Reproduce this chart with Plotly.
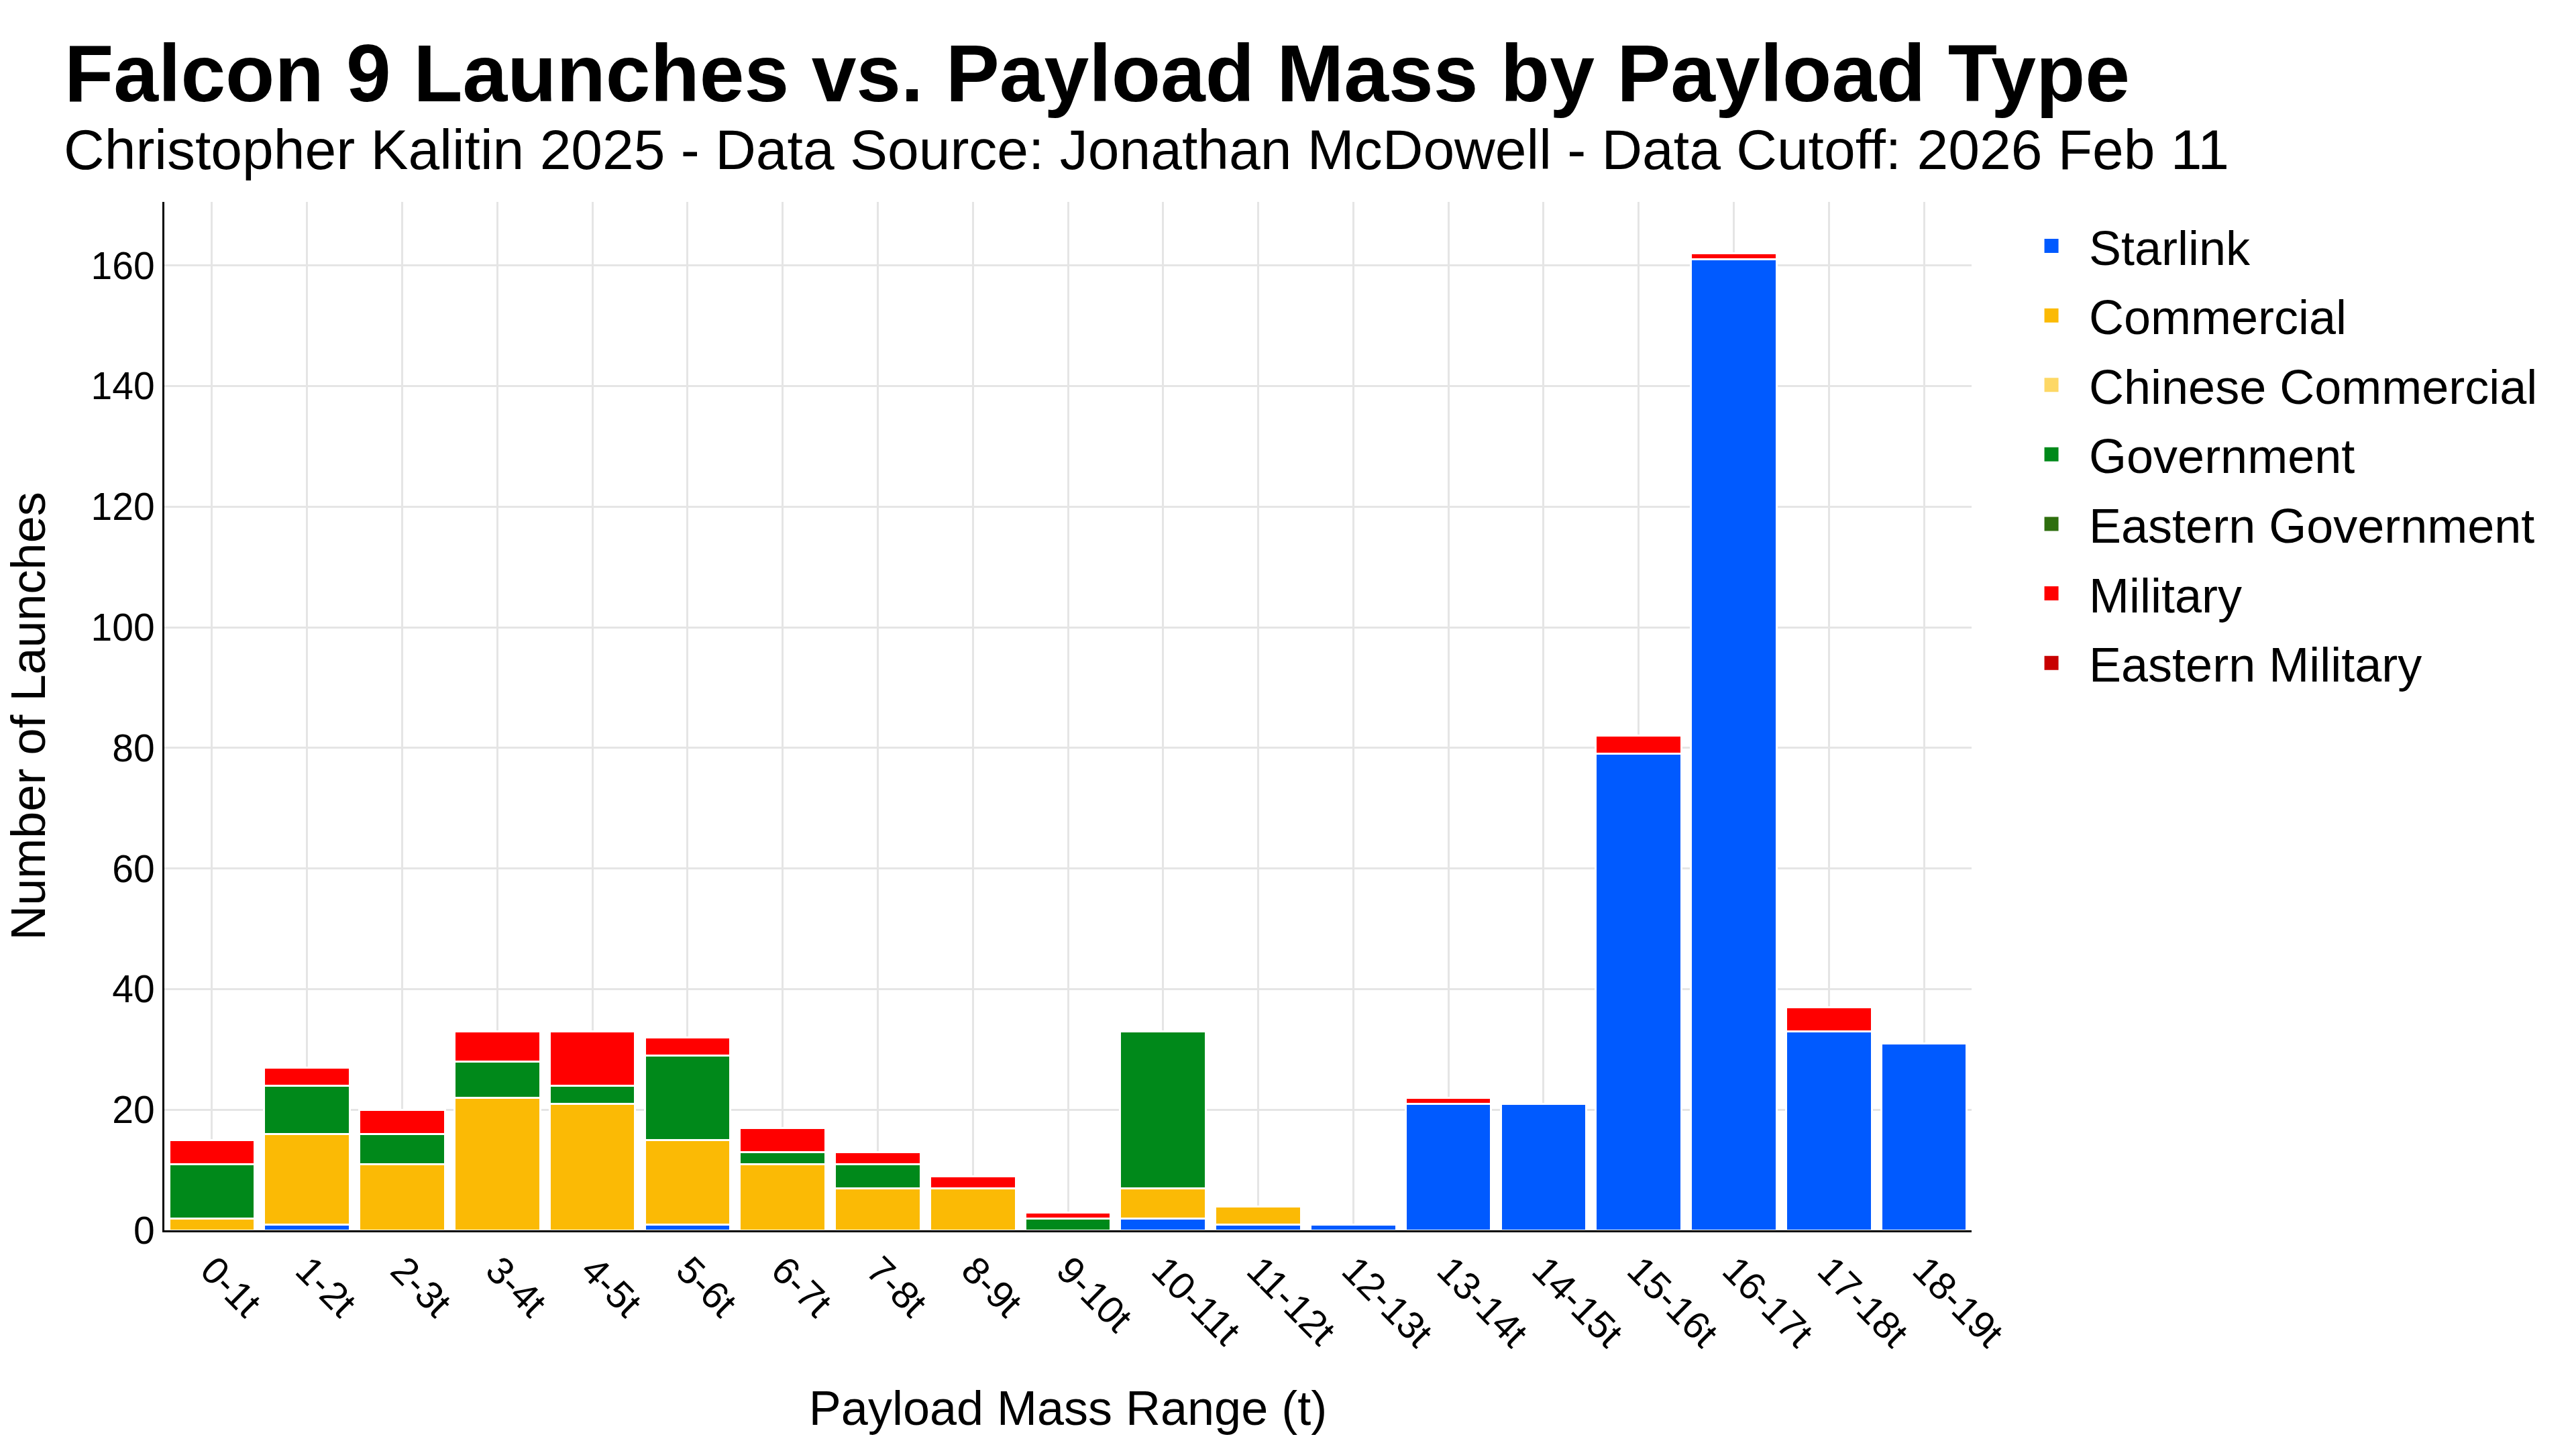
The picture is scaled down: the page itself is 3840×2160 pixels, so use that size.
import plotly.graph_objects as go

categories = ["0-1t", "1-2t", "2-3t", "3-4t", "4-5t", "5-6t", "6-7t", "7-8t", "8-9t", "9-10t",
              "10-11t", "11-12t", "12-13t", "13-14t", "14-15t", "15-16t", "16-17t", "17-18t", "18-19t"]

starlink = [0, 1, 0, 0, 0, 1, 0, 0, 0, 0, 2, 1, 1, 21, 21, 79, 161, 33, 31]
commercial = [2, 15, 11, 22, 21, 14, 11, 7, 7, 0, 5, 3, 0, 0, 0, 0, 0, 0, 0]
chinese_commercial = [0, 0, 0, 0, 0, 0, 0, 0, 0, 0, 0, 0, 0, 0, 0, 0, 0, 0, 0]
government = [9, 8, 5, 6, 3, 14, 2, 4, 0, 2, 26, 0, 0, 0, 0, 0, 0, 0, 0]
eastern_government = [0, 0, 0, 0, 0, 0, 0, 0, 0, 0, 0, 0, 0, 0, 0, 0, 0, 0, 0]
military = [4, 3, 4, 5, 9, 3, 4, 2, 2, 1, 0, 0, 0, 1, 0, 3, 1, 4, 0]
eastern_military = [0, 0, 0, 0, 0, 0, 0, 0, 0, 0, 0, 0, 0, 0, 0, 0, 0, 0, 0]

series_names = ["Starlink", "Commercial", "Chinese Commercial", "Government",
                "Eastern Government", "Military", "Eastern Military"]
series_values = [starlink, commercial, chinese_commercial, government,
                 eastern_government, military, eastern_military]
series_colors = ["#005AFF", "#FBBA05", "#FDD866", "#00891A", "#2E6E0E", "#FF0000", "#C80000"]

TITLE = "Falcon 9 Launches vs. Payload Mass by Payload Type"
SUBTITLE = "Christopher Kalitin 2025 - Data Source: Jonathan McDowell - Data Cutoff: 2026 Feb 11"

FONT = 'Arial, "Liberation Sans", sans-serif'

fig = go.Figure()
# stacked bars (white outlines separate the segments)
for name, vals, color in zip(series_names, series_values, series_colors):
    fig.add_trace(go.Bar(
        x=categories, y=vals, name=name, legendgroup=name, showlegend=False,
        marker=dict(color=color, line=dict(color="white", width=3)),
    ))
# legend entries: solid squares in the series colours
for name, color in zip(series_names, series_colors):
    fig.add_trace(go.Scatter(
        x=[None], y=[None], mode="markers", name=name, legendgroup=name,
        marker=dict(symbol="square", size=16, color=color, line=dict(color=color, width=5)),
        hoverinfo="skip",
    ))

fig.update_layout(
    template="none",
    width=3840, height=2160,
    barmode="stack", bargap=0.1,
    plot_bgcolor="white", paper_bgcolor="white",
    font=dict(family=FONT, color="black", size=57),
    margin=dict(l=245, r=901, t=301, b=326, pad=0),
    title=dict(
        text="<b>" + TITLE + "</b>",
        font=dict(family=FONT, size=120, color="black"),
        x=0.025, xanchor="left", xref="container",
        y=0.969, yanchor="top", yref="container",
    ),
    annotations=[dict(
        text=SUBTITLE, showarrow=False,
        xref="paper", yref="paper", x=-0.0565, y=1.0509,
        xanchor="left", yanchor="middle",
        font=dict(family=FONT, size=84, color="black"),
    )],
    xaxis=dict(
        title=dict(text="Payload Mass Range (t)", font=dict(size=72), standoff=55),
        tickangle=45, tickfont=dict(size=57),
        showline=True, linecolor="black", linewidth=3,
        showgrid=True, gridcolor="#E5E5E5", gridwidth=3,
        ticks="", automargin=False, zeroline=False,
    ),
    yaxis=dict(
        title=dict(text="Number of Launches", font=dict(size=72), standoff=45),
        tickfont=dict(size=57), dtick=20,
        showline=True, linecolor="black", linewidth=3,
        showgrid=True, gridcolor="#E5E5E5", gridwidth=3,
        ticks="", automargin=False, zeroline=False,
        ticklabelstandoff=0,
    ),
    legend=dict(
        x=1.0234, xanchor="left", y=0.992, yanchor="top",
        font=dict(size=72), traceorder="grouped",
        tracegroupgap=7, itemwidth=102,
        bgcolor="rgba(0,0,0,0)",
    ),
)

fig.write_html("out.html")
